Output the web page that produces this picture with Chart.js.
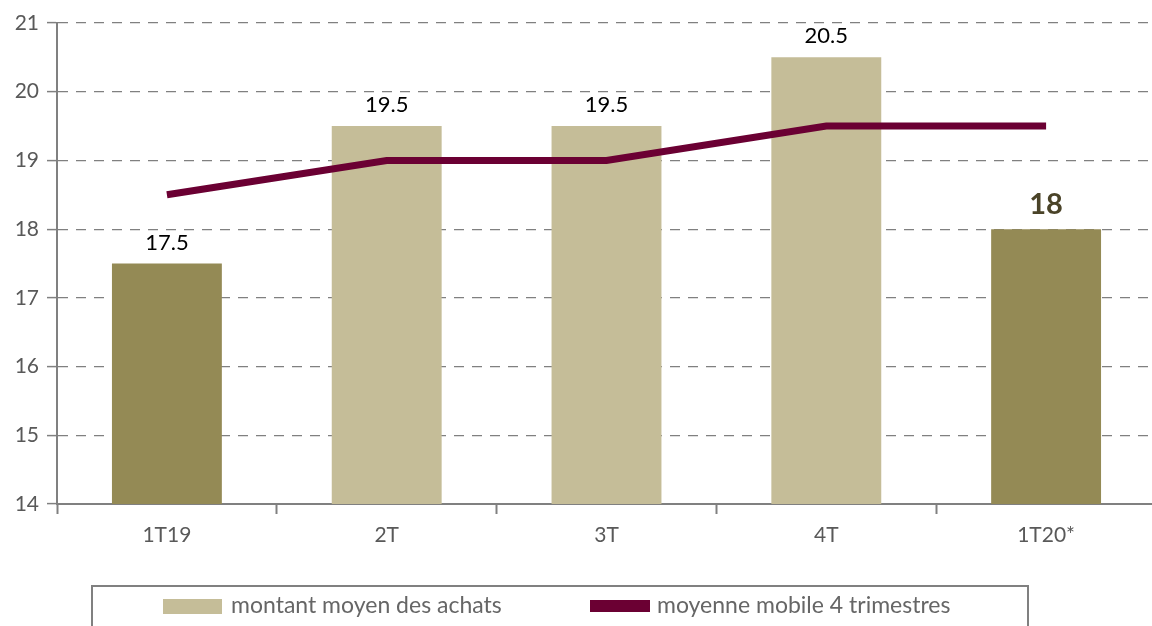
<!DOCTYPE html>
<html>
<head>
<meta charset="utf-8">
<script src="https://cdn.jsdelivr.net/npm/chart.js@4/dist/chart.umd.min.js"></script>
<style>
  html, body { margin: 0; padding: 0; background: #fff; overflow: hidden; }
  #wrap { width: 1156px; height: 626px; position: relative; }
</style>
</head>
<body>
<div id="wrap"><canvas id="chart"></canvas></div>
<script>
// Chart data
const categories = ['1T19', '2T', '3T', '4T', '1T20*'];
const montantMoyen = [17.5, 19.5, 19.5, 20.5, 18];
const moyenneMobile = [18.5, 19, 19, 19.5, 19.5];
const yTicks = [14, 15, 16, 17, 18, 19, 20, 21];
const barLabel = 'montant moyen des achats';
const lineLabel = 'moyenne mobile 4 trimestres';

const DARK = '#948a55';
const LIGHT = '#c5bd98';
const MAROON = '#6b0033';
const GREY = '#808080';
const TEXT = '#595959';
const FONT = 'Lato, "Open Sans", sans-serif';

// Bars 1T19 and 1T20* are highlighted in dark olive
const barColors = montantMoyen.map((v, i) => (i === 0 || i === categories.length - 1) ? DARK : LIGHT);

// Value labels above bars
const barLabels = {
  id: 'barLabels',
  afterDatasetsDraw(chart) {
    const ctx = chart.ctx;
    const meta = chart.getDatasetMeta(1);
    ctx.save();
    ctx.textAlign = 'center';
    ctx.textBaseline = 'middle';
    meta.data.forEach((bar, i) => {
      const last = i === categories.length - 1;
      ctx.font = last ? `bold 29px ${FONT}` : `22px ${FONT}`;
      ctx.fillStyle = last ? '#4a4328' : '#000';
      ctx.fillText(String(montantMoyen[i]), bar.x, bar.y - (last ? 25 : 21));
    });
    ctx.restore();
  }
};

// Boxed legend under the axis
const boxedLegend = {
  id: 'boxedLegend',
  afterDraw(chart) {
    const ctx = chart.ctx;
    ctx.save();
    ctx.strokeStyle = GREY;
    ctx.lineWidth = 2;
    ctx.strokeRect(92, 586, 936, 60);
    ctx.fillStyle = LIGHT;
    ctx.fillRect(163, 599, 59, 15);
    ctx.fillStyle = MAROON;
    ctx.fillRect(590, 600, 60, 12);
    ctx.font = `23px ${FONT}`;
    ctx.fillStyle = '#666';
    ctx.textBaseline = 'middle';
    ctx.textAlign = 'left';
    ctx.fillText(barLabel, 231, 606);
    ctx.fillText(lineLabel, 657, 606);
    ctx.restore();
  }
};

const ctx = document.getElementById('chart').getContext('2d');
new Chart(ctx, {
  data: {
    labels: categories,
    datasets: [
      {
        type: 'line',
        label: lineLabel,
        data: moyenneMobile,
        borderColor: MAROON,
        backgroundColor: MAROON,
        borderWidth: 7,
        pointRadius: 0,
        tension: 0,
        order: 0,
      },
      {
        type: 'bar',
        label: barLabel,
        data: montantMoyen,
        backgroundColor: barColors,
        barPercentage: 0.5,
        categoryPercentage: 1,
        order: 1,
      },
    ],
  },
  options: {
    responsive: true,
    maintainAspectRatio: false,
    animation: false,
    layout: { padding: { top: 23, left: 0, right: 0, bottom: 0 } },
    scales: {
      x: {
        offset: true,
        grid: {
          offset: true,
          drawOnChartArea: false,
          drawTicks: true,
          tickLength: 10,
          tickColor: GREY,
          tickWidth: 2,
        },
        border: { display: true, color: GREY, width: 2 },
        ticks: { color: TEXT, font: { family: FONT, size: 21 }, padding: 9 },
        afterFit(scale) { scale.height = 122; },
      },
      y: {
        min: 14,
        max: 21,
        afterBuildTicks(scale) { scale.ticks = yTicks.map(v => ({ value: v })); },
        grid: {
          color: GREY,
          lineWidth: 1.2,
          drawTicks: true,
          tickLength: 10,
          tickColor: GREY,
          tickWidth: 1.5,
          tickBorderDash: [],
        },
        border: { display: true, color: GREY, width: 2, dash: [10, 8] },
        ticks: { color: TEXT, font: { family: FONT, size: 21 }, padding: 8 },
        afterFit(scale) { scale.width = 57; },
      },
    },
    plugins: {
      legend: { display: false },
      tooltip: { enabled: false },
    },
  },
  plugins: [barLabels, boxedLegend],
});
</script>
</body>
</html>
